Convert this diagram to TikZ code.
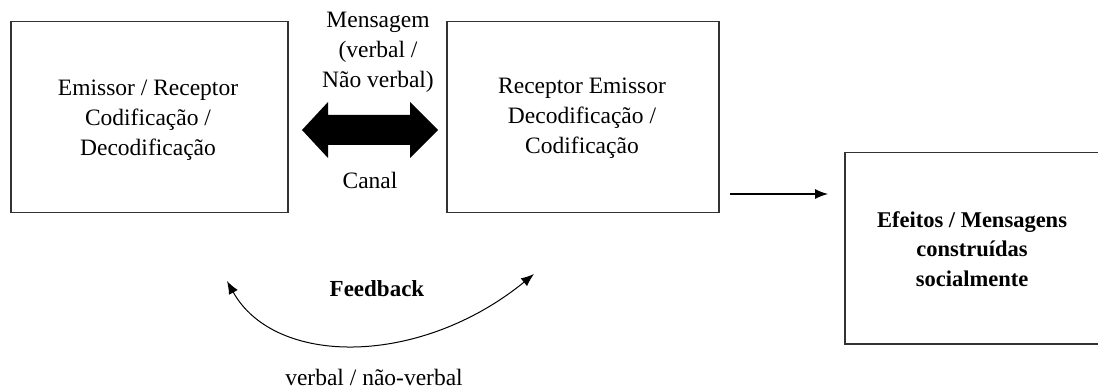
\documentclass[tikz,border=0pt]{standalone}
\usepackage{fontspec}
\setmainfont{Liberation Serif}
\usetikzlibrary{arrows.meta}
\definecolor{boxline}{HTML}{333333}
\tikzset{
  box/.style={draw=boxline, line width=1.5pt, anchor=north west, inner sep=0pt},
  boxtext/.style={align=center, font=\fontsize{23.5}{30}\selectfont},
  boldtext/.style={align=center, font=\fontsize{22.5}{29.5}\selectfont\bfseries},
  label/.style={align=center, font=\fontsize{23.5}{30}\selectfont},
  conn/.style={draw=black, line width=1.2pt, -{Latex[length=13pt,width=10pt]}},
}
\begin{document}
\begin{tikzpicture}[x=1pt,y=-1pt]
\useasboundingbox (0,0) rectangle (1098,390);
\begin{scope}
\clip (0,0) rectangle (1098,390);
% boxes
\node[box, minimum width=277pt, minimum height=191pt] (b1) at (10,21) {};
\node[box, minimum width=272pt, minimum height=191pt] (b2) at (446,21) {};
\node[box, minimum width=270pt, minimum height=191pt] (b3) at (844,152) {};
\end{scope}
% box texts
\node[boxtext] (t1) at (148,120) {Emissor / Receptor\\Codificação /\\Decodificação};
\node[boxtext] (t2) at (582,118) {Receptor Emissor\\Decodificação /\\Codificação};
\node[boldtext] (t3) at (972,249) {Efeitos / Mensagens\\construídas\\socialmente};
% message labels
\node[label] (msg) at (378,52) {Mensagem\\(verbal /\\Não verbal)};
\node[label] (canal) at (370,180) {Canal};
% double arrow (canal)
\coordinate (da) at (370,130);
\fill[black] (302,130) -- (328,102) -- (328,115) -- (410,115) -- (410,102) -- (438,130)
  -- (410,158) -- (410,145) -- (328,145) -- (328,158) -- cycle;
% right arrow
\coordinate (ra1) at (730,194);
\coordinate (ra2) at (828,194);
\draw[conn] (ra1) -- (ra2);
% feedback
\coordinate (fbL) at (227,281);
\coordinate (fbR) at (534,274);
\draw[conn, {Latex[length=13pt,width=10pt]}-{Latex[length=13pt,width=10pt]}, line width=1pt]
  (fbL) .. controls (275,367) and (420,367) .. (fbR);
\node[label, font=\fontsize{23}{30}\selectfont\bfseries] (fb) at (377,289) {Feedback};
\node[label] (vnv) at (374,377) {verbal / não-verbal};
\end{tikzpicture}
\end{document}
